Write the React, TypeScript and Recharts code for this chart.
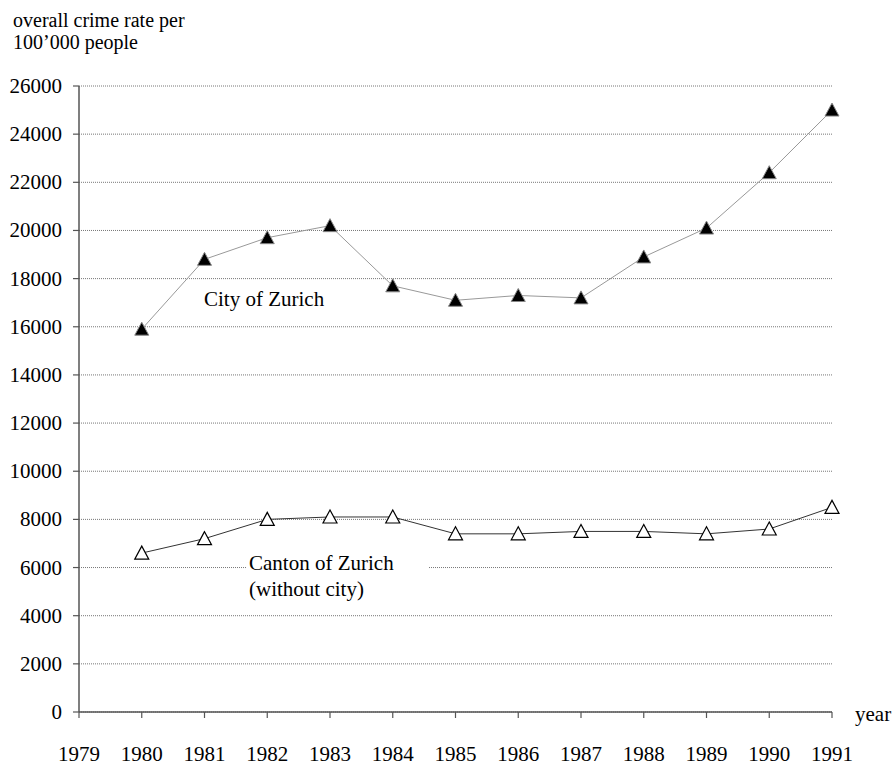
import React from 'react';
import { LineChart, Line, XAxis, YAxis, CartesianGrid } from 'recharts';

const years = [1980, 1981, 1982, 1983, 1984, 1985, 1986, 1987, 1988, 1989, 1990, 1991];
const cityValues = [15900, 18800, 19700, 20200, 17700, 17100, 17300, 17200, 18900, 20100, 22400, 25000];
const cantonValues = [6600, 7200, 8000, 8100, 8100, 7400, 7400, 7500, 7500, 7400, 7600, 8500];
const xTicks = [1979, 1980, 1981, 1982, 1983, 1984, 1985, 1986, 1987, 1988, 1989, 1990, 1991];
const yTicks = [0, 2000, 4000, 6000, 8000, 10000, 12000, 14000, 16000, 18000, 20000, 22000, 24000, 26000];

const data = years.map((y, i) => ({ year: y, city: cityValues[i], canton: cantonValues[i] }));

const FONT = 'Liberation Serif, Times New Roman, serif';

const FilledTri = (props: any) => {
  const { cx, cy } = props;
  if (cx == null || cy == null) return null;
  return (
    <polygon
      points={`${cx},${cy - 7} ${cx - 7},${cy + 6} ${cx + 7},${cy + 6}`}
      fill="#000"
      stroke="#888"
      strokeWidth={1}
    />
  );
};

const OpenTri = (props: any) => {
  const { cx, cy } = props;
  if (cx == null || cy == null) return null;
  return (
    <polygon
      points={`${cx},${cy - 7} ${cx - 7},${cy + 6} ${cx + 7},${cy + 6}`}
      fill="#fff"
      stroke="#000"
      strokeWidth={1.2}
    />
  );
};

const XTick = (props: any) => {
  const { x, y, payload } = props;
  return (
    <text x={x} y={y} textAnchor="middle" fontSize={21} fontFamily={FONT} fill="#000" style={{ fontFamily: FONT }}>
      {payload.value}
    </text>
  );
};

const YTick = (props: any) => {
  const { x, y, payload } = props;
  return (
    <text x={x} y={y} dy={7} textAnchor="end" fontSize={21} fontFamily={FONT} fill="#000" style={{ fontFamily: FONT }}>
      {payload.value}
    </text>
  );
};

export default function App() {
  return (
    <div style={{ position: 'absolute', left: 0, top: 0, width: 892, height: 765, background: '#fff', fontFamily: FONT }}>
      <LineChart
        width={892}
        height={765}
        data={data}
        margin={{ top: 86, right: 60, left: 0, bottom: 0 }}
        style={{ fontFamily: FONT }}
      >
        <CartesianGrid
          horizontal={true}
          vertical={false}
          stroke="#777"
          strokeDasharray="1 1"
        />
        <XAxis
          dataKey="year"
          type="number"
          domain={[1979, 1991]}
          ticks={xTicks}
          interval={0}
          height={53}
          tickSize={6}
          tickMargin={43}
          axisLine={{ stroke: '#555', strokeWidth: 1.5 }}
          tickLine={{ stroke: '#555', strokeWidth: 1.2 }}
          tick={<XTick />}
        />
        <YAxis
          type="number"
          domain={[0, 26000]}
          ticks={yTicks}
          interval={0}
          width={79}
          tickSize={6}
          tickMargin={11}
          axisLine={{ stroke: '#555', strokeWidth: 1.5 }}
          tickLine={{ stroke: '#555', strokeWidth: 1.2 }}
          tick={<YTick />}
        />
        <Line
          dataKey="city"
          stroke="#999"
          strokeWidth={1}
          isAnimationActive={false}
          dot={<FilledTri />}
          activeDot={false}
        />
        <Line
          dataKey="canton"
          stroke="#333"
          strokeWidth={1}
          isAnimationActive={false}
          dot={<OpenTri />}
          activeDot={false}
        />
      </LineChart>

      <div style={{ position: 'absolute', left: 13, top: 9, fontSize: 20, lineHeight: '22px', color: '#000', whiteSpace: 'nowrap' }}>
        overall crime rate per<br />100’000 people
      </div>
      <div style={{ position: 'absolute', left: 855, top: 702, fontSize: 21, lineHeight: '24px', color: '#000' }}>
        year
      </div>
      <div style={{ position: 'absolute', left: 204, top: 287, fontSize: 21, lineHeight: '24px', color: '#000', whiteSpace: 'nowrap' }}>
        City of Zurich
      </div>
      <div style={{ position: 'absolute', left: 247, top: 550, width: 181, height: 50, background: '#fff' }}>
        <div style={{ paddingLeft: 2, fontSize: 21, lineHeight: '26px', color: '#000', whiteSpace: 'nowrap' }}>
          Canton of Zurich<br />(without city)
        </div>
      </div>
    </div>
  );
}
